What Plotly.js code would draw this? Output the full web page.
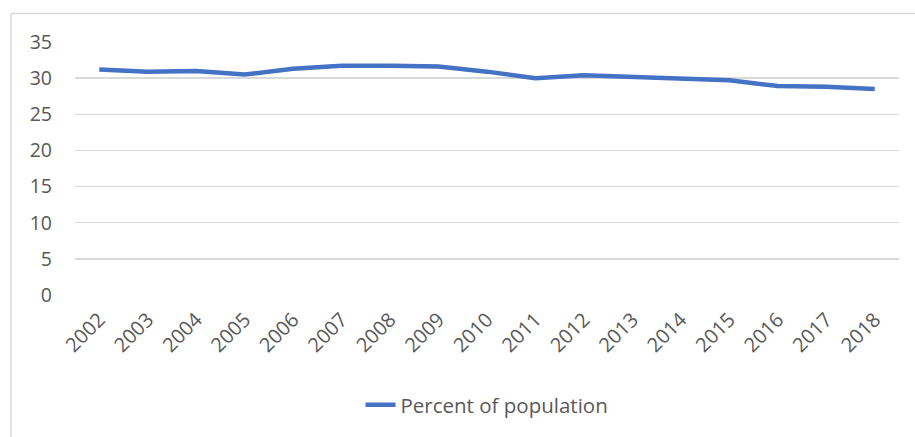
<!DOCTYPE html>
<html>
<head>
<meta charset="utf-8">
<script src="https://cdn.plot.ly/plotly-3.0.1.min.js"></script>
<style>html,body{margin:0;padding:0;background:#fff;}#chart{width:915px;height:437px;}</style>
</head>
<body>
<div id="chart"></div>
<script>
const years = ["2002","2003","2004","2005","2006","2007","2008","2009","2010","2011","2012","2013","2014","2015","2016","2017","2018"];
const percentOfPopulation = [31.2, 30.9, 31.0, 30.5, 31.3, 31.7, 31.7, 31.6, 30.9, 30.0, 30.4, 30.2, 30.0, 29.7, 28.9, 28.8, 28.5];
const seriesName = "Percent of population";
const yTicks = [0, 5, 10, 15, 20, 25, 30, 35];

const W = 915, H = 437;
const L = 75, R = 16, T = 42, B = 142;
const pw = W - L - R, ph = H - T - B;
function px(x){ return (x - L) / pw; }
function py(y){ return (H - B - y) / ph; }

const trace = {
  x: years,
  y: percentOfPopulation,
  type: "scatter",
  mode: "lines",
  name: seriesName,
  line: {color: "#4472C4", width: 4.5, shape: "linear"},
  hoverinfo: "none"
};

const layout = {
  width: W, height: H,
  margin: {l: L, r: R, t: T, b: B, pad: 0},
  paper_bgcolor: "#ffffff",
  plot_bgcolor: "#ffffff",
  font: {family: "Open Sans, Lato, sans-serif", color: "#595959", size: 18},
  showlegend: true,
  legend: {
    orientation: "h", x: 0.5, xanchor: "center", y: py(405), yanchor: "middle",
    xref: "paper", yref: "paper", itemwidth: 30,
    font: {size: 20.5, color: "#595959"}, bgcolor: "rgba(0,0,0,0)"
  },
  xaxis: {
    type: "category",
    range: [-0.5, years.length - 0.5],
    showgrid: false, zeroline: false, showline: false,
    tickangle: -45, ticks: "", ticklabelstandoff: 8,
    tickfont: {size: 20, color: "#595959"},
    fixedrange: true
  },
  yaxis: {
    range: [0, 35],
    tickvals: yTicks,
    ticktext: yTicks.map(String),
    showgrid: true, gridcolor: "#d9d9d9", gridwidth: 1.3,
    zeroline: false, showline: false, ticks: "",
    ticklabelstandoff: 22,
    tickfont: {size: 19.5, color: "#595959"},
    fixedrange: true
  },
  shapes: [
    {type: "line", xref: "paper", yref: "paper", x0: px(11), x1: px(915), y0: py(13.5), y1: py(13.5),
     line: {color: "#d9d9d9", width: 1.5}},
    {type: "line", xref: "paper", yref: "paper", x0: px(11), x1: px(11), y0: py(13.5), y1: py(437),
     line: {color: "#d9d9d9", width: 1.5}}
  ]
};

Plotly.newPlot("chart", [trace], layout, {displayModeBar: false, staticPlot: true});
</script>
</body>
</html>
